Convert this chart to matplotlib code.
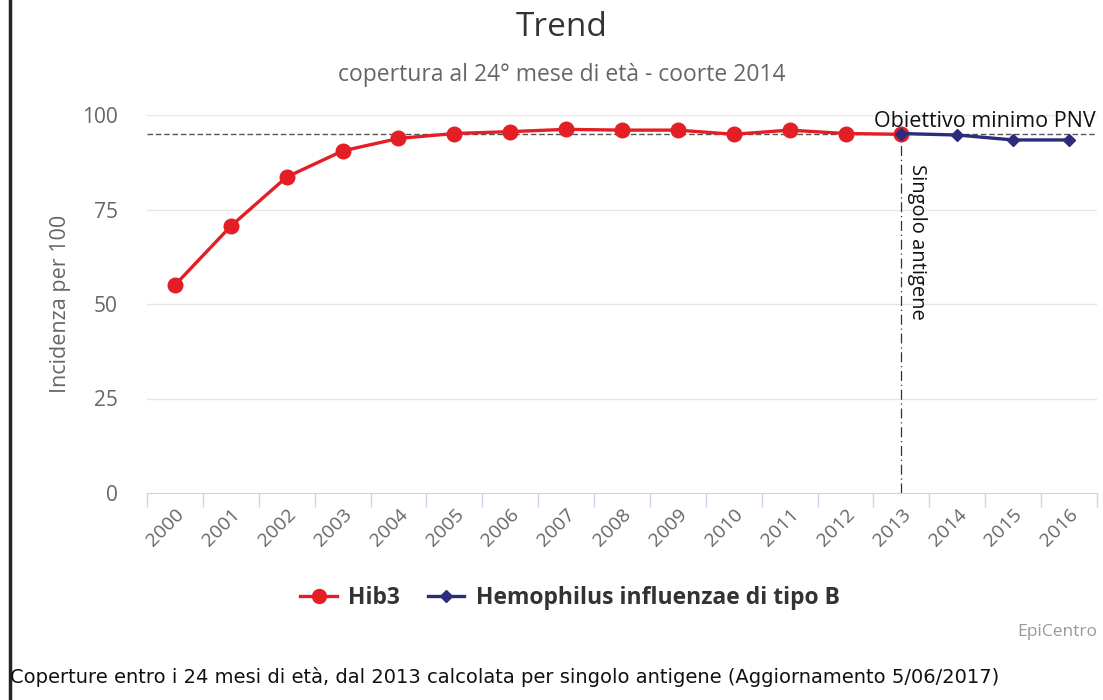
import matplotlib
matplotlib.use("Agg")
import matplotlib.pyplot as plt
from matplotlib.lines import Line2D
import numpy as np

years = ["2000", "2001", "2002", "2003", "2004", "2005", "2006", "2007", "2008",
         "2009", "2010", "2011", "2012", "2013", "2014", "2015", "2016"]
hib3 = [55.0, 70.6, 83.6, 90.5, 93.8, 95.1, 95.6, 96.2, 96.0, 96.0, 94.9, 96.0, 95.1, 94.9]
hib_b_years = ["2013", "2014", "2015", "2016"]
hib_b = [95.1, 94.7, 93.4, 93.4]
yticks = [0, 25, 50, 75, 100]
target = 95
red = "#e31e24"
navy = "#2b2d7c"

W, H = 1103, 700
fig = plt.figure(figsize=(W / 100, H / 100), dpi=100)
fam = ["Open Sans", "DejaVu Sans"]

def fx(px):
    return px / W

def fy(py):
    return 1 - py / H

ax = fig.add_axes([fx(147), fy(493), fx(1097) - fx(147), fy(115) - fy(493)])
x_all = np.arange(len(years))
x_hib3 = x_all[:len(hib3)]
x_b = np.array([years.index(y) for y in hib_b_years])

ax.set_xlim(-0.5, len(years) - 0.5)
ax.set_ylim(0, 100)

for y in yticks[1:]:
    ax.axhline(y, color="#e6e6e6", lw=1, zorder=0)
ax.axhline(target, color="#555555", lw=1, ls=(0, (4, 2)), zorder=1)

ax.plot(x_hib3, hib3, color=red, lw=2.4, marker="o", ms=10.5, zorder=4, clip_on=False)
ax.plot(x_b, hib_b, color=navy, lw=2.4, marker="D", ms=6.5, zorder=5, clip_on=False)

ax.plot([x_b[0], x_b[0]], [0, target], color="#333333", lw=0.9, ls=(0, (8, 3, 1, 3)), zorder=3)
ax.text(x_b[0] + 0.1, 87, "Singolo antigene", rotation=-90, ha="left", va="top",
        fontsize=14.5, color="#111111", family=fam)
ax.text(len(years) - 0.52, target + 0.6, "Obiettivo minimo PNV", ha="right", va="bottom",
        fontsize=15.5, color="#111111", family=fam)

for s in ["top", "right", "left"]:
    ax.spines[s].set_visible(False)
ax.spines["bottom"].set_color("#ccd6eb")
ax.set_yticks(yticks)
ax.set_yticklabels([str(v) for v in yticks], family=fam, fontsize=15, color="#666666")
ax.tick_params(axis="y", length=0, pad=21)
ax.set_xticks(x_all)
ax.set_xticklabels(years, rotation=45, ha="right", rotation_mode="anchor",
                   family=fam, fontsize=14, color="#666666")
ax.tick_params(axis="x", length=0, pad=9)
ax.set_xticks(np.arange(-0.5, len(years)), minor=True)
ax.tick_params(axis="x", which="minor", length=10, color="#ccd6eb", width=1)
ax.set_ylabel("Incidenza per 100", family=fam, fontsize=15.5, color="#666666", labelpad=8)

fig.text(fx(562), fy(28), "Trend", ha="center", va="center", fontsize=24, color="#333333", family=fam)
fig.text(fx(562), fy(75), "copertura al 24° mese di età - coorte 2014", ha="center", va="center",
         fontsize=16.5, color="#666666", family=fam)

handles = [Line2D([0], [0], color=red, lw=2.4, marker="o", ms=10),
           Line2D([0], [0], color=navy, lw=2.4, marker="D", ms=6.5)]
leg = fig.legend(handles, ["Hib3", "Hemophilus influenzae di tipo B"], loc="center",
                 bbox_to_anchor=(fx(570), fy(598)), ncol=2, frameon=False,
                 prop={"family": fam, "weight": "bold", "size": 16.5}, handlelength=1.6,
                 columnspacing=1.2, handletextpad=0.5)
for t in leg.get_texts():
    t.set_color("#333333")

fig.text(fx(1097), fy(632), "EpiCentro", ha="right", va="center", fontsize=12.5, color="#999999", family=fam)
fig.text(fx(10), fy(677), "Coperture entro i 24 mesi di età, dal 2013 calcolata per singolo antigene (Aggiornamento 5/06/2017)",
         ha="left", va="center", fontsize=14, color="#111111", family="DejaVu Sans")

fig.add_artist(Line2D([fx(10), fx(10)], [0, 1], color="#222222", lw=2.5, transform=fig.transFigure))

fig.savefig("out.png", dpi=100)
